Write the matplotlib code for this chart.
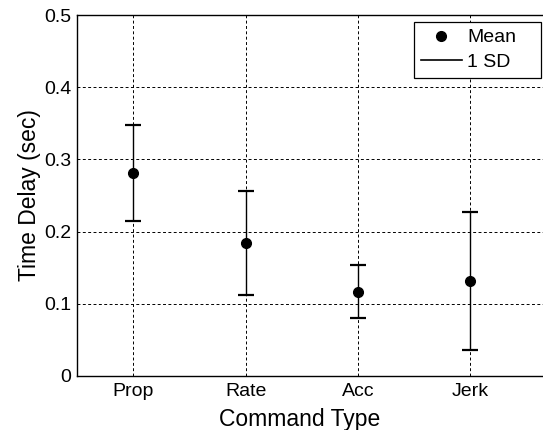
import numpy as np
import matplotlib.pyplot as plt

plt.rcParams['font.family'] = ['Liberation Sans', 'DejaVu Sans']

# time delay per command type
commands = ["Prop", "Rate", "Acc", "Jerk"]
mean_delay = [0.281, 0.184, 0.117, 0.131]
sd_delay = [0.066, 0.0725, 0.0365, 0.0955]

x = np.arange(1, len(commands) + 1)

fig = plt.figure(figsize=(5.43, 4.30), dpi=100)
# right edge of the axes runs past the figure border
ax = fig.add_axes([77 / 543, 1 - 376 / 430, (549 - 77) / 543, (376 - 15) / 430])

# 1 SD bars
ax.errorbar(x, mean_delay, yerr=sd_delay, fmt="none", ecolor="black",
            elinewidth=1.0, capsize=6, capthick=1.6, zorder=3)
ax.plot([], [], color="black", lw=1.2, label="1 SD")
ax.plot(x, mean_delay, "o", color="black", ms=7, zorder=4, label="Mean")

ax.set_xlim(0.5, 4.7)
ax.set_ylim(0, 0.5)
ax.set_xticks(x)
ax.set_xticklabels(commands)
ax.set_yticks([0, 0.1, 0.2, 0.3, 0.4, 0.5])
ax.set_yticklabels(["0", "0.1", "0.2", "0.3", "0.4", "0.5"])
ax.tick_params(labelsize=14, length=0)
ax.tick_params(axis="x", pad=5)
ax.tick_params(axis="y", pad=4)
ax.grid(True, color="black", linestyle=(0, (3, 2.5)), linewidth=0.7)
ax.set_axisbelow(True)
for s in ax.spines.values():
    s.set_linewidth(1.0)
ax.set_xlabel("Command Type", fontsize=16.5)
ax.set_ylabel("Time Delay (sec)", fontsize=16.5, labelpad=2)
ax.xaxis.set_label_coords((300 - 77) / (549 - 77), -0.09)

h, l = ax.get_legend_handles_labels()
leg = ax.legend(h[::-1], l[::-1], loc="upper left", mode="expand",
                fontsize=14, frameon=True, fancybox=False, edgecolor="black",
                framealpha=1,
                bbox_to_anchor=(414 / 543, 1 - 80 / 430, 127 / 543, 58 / 430),
                bbox_transform=fig.transFigure, borderaxespad=0,
                handlelength=2.1, handletextpad=0.3,
                borderpad=0.35, labelspacing=0.35)
leg.get_frame().set_linewidth(0.9)

fig.savefig("out.png", dpi=100)
